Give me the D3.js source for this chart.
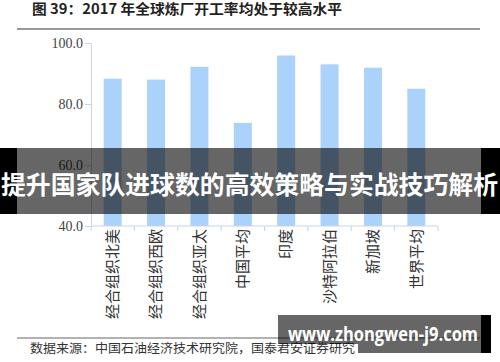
<!DOCTYPE html>
<html>
<head>
<meta charset="utf-8">
<script src="https://cdn.jsdelivr.net/npm/d3@7"></script>
<style>
  body { margin: 0; background: #fff; }
  svg { display: block; }
</style>
</head>
<body>
<div id="chart"></div>
<script>
//Chart data
var categories = ["经合组织北美", "经合组织西欧", "经合组织亚太", "中国平均", "印度", "沙特阿拉伯", "新加坡", "世界平均"];
var values = [88.3, 88.0, 92.2, 73.8, 95.9, 93.0, 91.9, 85.0];
var yTicks = [40, 60, 80, 100];

var titleText = "图 39：2017 年全球炼厂开工率均处于较高水平";
var sourceText = "数据来源：中国石油经济技术研究院，国泰君安证券研究";
var bannerText = "提升国家队进球数的高效策略与实战技巧解析";
var markText = "www.zhongwen-j9.com";

var width = 500, height = 362;
var axisColor = "#c9d4e6";

var svg = d3.select("#chart").append("svg")
    .attr("width", width)
    .attr("height", height);

//Title and rule under it
svg.append("text")
    .attr("x", 32).attr("y", 14)
    .attr("font-family", "'Noto Sans CJK SC', 'Liberation Serif', serif")
    .attr("font-weight", "bold")
    .attr("font-size", 14)
    .attr("fill", "#222")
    .attr("textLength", 310)
    .attr("lengthAdjust", "spacingAndGlyphs")
    .text(titleText);

svg.append("line")
    .attr("x1", 17).attr("x2", 480)
    .attr("y1", 29).attr("y2", 29)
    .attr("stroke", "#999").attr("stroke-width", 2);

//Scales
var x = d3.scaleBand()
    .domain(categories)
    .range([91, 438])
    .paddingInner(0.585)
    .paddingOuter(0.2925);

var y = d3.scaleLinear()
    .domain([40, 100])
    .range([226, 43]);

//Bars
svg.selectAll("rect.bar")
    .data(values)
    .enter().append("rect")
    .attr("class", "bar")
    .attr("x", function(d, i) { return x(categories[i]); })
    .attr("width", x.bandwidth())
    .attr("y", function(d) { return y(d); })
    .attr("height", function(d) { return y(40) - y(d); })
    .attr("fill", "#abd2fa");

//Y axis
var yAxis = svg.append("g")
    .attr("transform", "translate(91,0)")
    .call(d3.axisLeft(y).tickValues(yTicks).tickFormat(d3.format(".1f")).tickSize(6).tickPadding(2));
yAxis.select(".domain").attr("stroke", axisColor);
yAxis.selectAll(".tick line").attr("stroke", axisColor);
yAxis.selectAll(".tick text")
    .attr("font-family", "'Liberation Serif', serif")
    .attr("font-size", 14)
    .attr("fill", "#444");

//X axis with ticks between categories
var bounds = d3.range(categories.length + 1).map(function(i) { return 91 + i * x.step(); });
var xAxis = svg.append("g");
xAxis.append("line")
    .attr("x1", 91).attr("x2", 438)
    .attr("y1", y(40)).attr("y2", y(40))
    .attr("stroke", axisColor);
xAxis.selectAll("line.tick")
    .data(bounds)
    .enter().append("line")
    .attr("class", "tick")
    .attr("x1", function(d) { return d; }).attr("x2", function(d) { return d; })
    .attr("y1", y(40)).attr("y2", y(40) + 5)
    .attr("stroke", axisColor);

xAxis.selectAll("text.cat")
    .data(categories)
    .enter().append("text")
    .attr("class", "cat")
    .attr("transform", function(d) {
        return "translate(" + (x(d) + x.bandwidth() / 2) + "," + 229 + ") rotate(-90)";
    })
    .attr("text-anchor", "end")
    .attr("dy", "0.35em")
    .attr("font-family", "'Noto Sans CJK SC', sans-serif")
    .attr("font-size", 15)
    .attr("fill", "#333")
    .text(function(d) { return d; });

//Bottom rule and source
svg.append("line")
    .attr("x1", 17).attr("x2", 480)
    .attr("y1", 338).attr("y2", 338)
    .attr("stroke", "#999").attr("stroke-width", 1.5);

svg.append("text")
    .attr("x", 30).attr("y", 353)
    .attr("font-family", "'Noto Sans CJK SC', serif")
    .attr("font-size", 12.5)
    .attr("fill", "#333")
    .attr("textLength", 325)
    .attr("lengthAdjust", "spacingAndGlyphs")
    .text(sourceText);

//Banner overlay
svg.append("rect").attr("x", 0).attr("y", 148).attr("width", 17).attr("height", 66).attr("fill", "#000");
svg.append("rect").attr("x", 17).attr("y", 148).attr("width", 464).attr("height", 66).attr("fill", "rgba(0,0,0,0.6)");
svg.append("rect").attr("x", 481).attr("y", 148).attr("width", 19).attr("height", 66).attr("fill", "#000");
svg.append("text")
    .attr("x", 1).attr("y", 194)
    .attr("font-family", "'Noto Sans CJK SC', sans-serif")
    .attr("font-weight", "bold")
    .attr("font-size", 25)
    .attr("fill", "#fff")
    .attr("textLength", 497)
    .attr("lengthAdjust", "spacingAndGlyphs")
    .text(bannerText);

//Watermark
svg.append("rect").attr("x", 278).attr("y", 315).attr("width", 203).attr("height", 29).attr("fill", "rgba(0,0,0,0.6)");
svg.append("rect").attr("x", 358).attr("y", 344).attr("width", 123).attr("height", 9).attr("fill", "rgba(0,0,0,0.6)");
svg.append("rect").attr("x", 481).attr("y", 315).attr("width", 10).attr("height", 38).attr("fill", "#000");
svg.append("text")
    .attr("x", 288).attr("y", 341)
    .attr("font-family", "'Open Sans', sans-serif")
    .attr("font-weight", "bold")
    .attr("font-size", 19)
    .attr("fill", "#fff")
    .attr("textLength", 190)
    .attr("lengthAdjust", "spacingAndGlyphs")
    .text(markText);
</script>
</body>
</html>
